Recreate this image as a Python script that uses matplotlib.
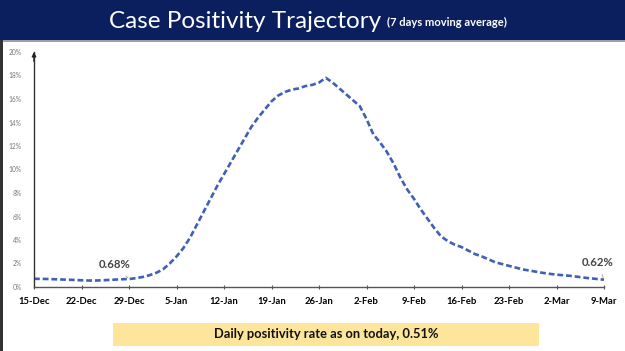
import matplotlib
matplotlib.use("Agg")
import matplotlib.pyplot as plt
import pandas as pd
from matplotlib.patches import Rectangle

# ---------------- data ----------------
start_date = "2021-12-15"
end_date = "2022-03-09"
positivity = [
    0.70, 0.69, 0.68, 0.66, 0.64, 0.62, 0.60,          # 15-21 Dec
    0.57, 0.55, 0.55, 0.57, 0.60, 0.63, 0.66,          # 22-28 Dec
    0.68, 0.75, 0.85, 1.00, 1.20, 1.50, 2.00,          # 29 Dec - 4 Jan
    2.60, 3.30, 4.20, 5.30, 6.40, 7.50, 8.60,          # 5-11 Jan
    9.60, 10.6, 11.6, 12.6, 13.6, 14.4, 15.1,          # 12-18 Jan
    15.8, 16.3, 16.6, 16.8, 16.9, 17.1, 17.2,          # 19-25 Jan
    17.4, 17.8, 17.4, 16.9, 16.4, 15.9, 15.4,          # 26 Jan - 1 Feb
    14.3, 13.0, 12.3, 11.5, 10.5, 9.30, 8.30,          # 2-8 Feb
    7.50, 6.60, 5.80, 5.00, 4.30, 3.90, 3.60,          # 9-15 Feb
    3.40, 3.10, 2.80, 2.60, 2.35, 2.10, 1.95,          # 16-22 Feb
    1.80, 1.65, 1.50, 1.40, 1.30, 1.20, 1.12,          # 23 Feb - 1 Mar
    1.05, 1.00, 0.95, 0.88, 0.80, 0.74, 0.68,          # 2-8 Mar
    0.62,                                              # 9 Mar
]
tick_labels = ["15-Dec", "22-Dec", "29-Dec", "5-Jan", "12-Jan", "19-Jan", "26-Jan",
               "2-Feb", "9-Feb", "16-Feb", "23-Feb", "2-Mar", "9-Mar"]
y_ticks = [0, 2, 4, 6, 8, 10, 12, 14, 16, 18, 20]
title_main = "Case Positivity Trajectory"
title_sub = "(7 days moving average)"
note_text = "Daily positivity rate as on today, 0.51%"
label_start = ("2021-12-29", 0.68, "0.68%")
label_end = ("2022-03-09", 0.62, "0.62%")

dates = pd.date_range(start_date, end_date, freq="D")

W, H = 625, 351
fig = plt.figure(figsize=(W / 100, H / 100), dpi=100)
fig.patch.set_facecolor("white")

def fx(px):
    return px / W

def fy(py):
    return 1 - py / H

# title bar
fig.patches.append(Rectangle((0, fy(40)), 1, 40 / H, transform=fig.transFigure,
                             facecolor="#0b1f5e", edgecolor="none", zorder=0))
fig.patches.append(Rectangle((0, fy(42)), 1, 2 / H, transform=fig.transFigure,
                             facecolor="#9aa0aa", edgecolor="none", zorder=0))
fig.patches.append(Rectangle((0, 0), 2.5 / W, fy(40), transform=fig.transFigure,
                             facecolor="#333333", edgecolor="none", zorder=0))

fig.text(fx(381), fy(21), title_main, color="white", fontsize=17.5,
         family="Lato", ha="right", va="center")
fig.text(fx(387), fy(22), title_sub, color="white", fontsize=8,
         family="Lato", fontweight="bold", ha="left", va="center")

# axes
ax = fig.add_axes([fx(34), fy(287), fx(604) - fx(34), fy(52) - fy(287)])
ax.plot(dates, positivity, color="#3f5fb8", lw=1.9, linestyle=(0, (2.2, 1.1)),
        solid_capstyle="butt", dash_capstyle="butt", clip_on=False)

ax.set_xlim(dates[0], dates[-1])
ax.set_ylim(0, 20)
tick_dates = pd.date_range(start_date, end_date, freq="7D")
ax.set_xticks(tick_dates)
ax.set_xticklabels(tick_labels, fontsize=6.8, fontweight="bold", family="Lato")
ax.set_yticks(y_ticks)
ax.set_yticklabels([f"{v}%" for v in y_ticks], fontsize=4.8, color="#777777", family="Lato")
ax.tick_params(axis="y", length=0, pad=9)
ax.tick_params(axis="x", length=3, direction="inout", width=0.8, pad=6, color="#555555")
for s in ["top", "right"]:
    ax.spines[s].set_visible(False)
ax.spines["left"].set_color("#333333")
ax.spines["bottom"].set_color("#555555")
ax.spines["left"].set_linewidth(1.0)
ax.spines["bottom"].set_linewidth(1.0)

# arrow on y-axis top
ax.annotate("", xy=(0, 1.0), xytext=(0, 0.96), xycoords="axes fraction",
            arrowprops=dict(arrowstyle="-|>", color="#222222", lw=1.0,
                            mutation_scale=6, shrinkA=0, shrinkB=0))

# value labels with leader lines
d0 = pd.Timestamp(label_start[0])
ax.annotate(label_start[2], xy=(d0, label_start[1]), xytext=(d0 - pd.Timedelta(days=2.1), 1.9),
            fontsize=8.2, fontweight="bold", family="Lato", color="#444444",
            ha="center", va="center",
            arrowprops=dict(arrowstyle="-", color="#999999", lw=0.6, shrinkA=3, shrinkB=1))
d1 = pd.Timestamp(label_end[0])
ax.annotate(label_end[2], xy=(d1, label_end[1]), xytext=(d1 - pd.Timedelta(days=1.0), 2.1),
            fontsize=8.2, fontweight="bold", family="Lato", color="#444444",
            ha="center", va="center",
            arrowprops=dict(arrowstyle="-", color="#999999", lw=0.6, shrinkA=3, shrinkB=1))

# note box
fig.patches.append(Rectangle((fx(113), fy(346)), fx(539) - fx(113), 23 / H,
                             transform=fig.transFigure, facecolor="#fde59b",
                             edgecolor="none", zorder=0))
fig.text(fx(326), fy(334.5), note_text, fontsize=9.3, fontweight="bold",
         family="Lato", ha="center", va="center", color="#111111")

fig.savefig("out.png", dpi=100)
